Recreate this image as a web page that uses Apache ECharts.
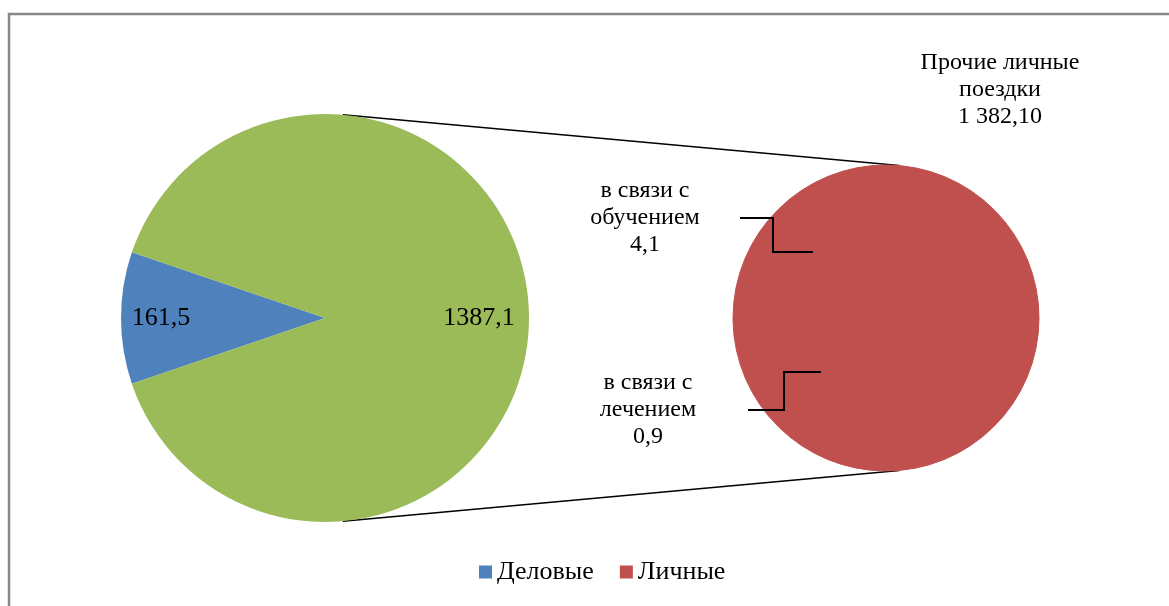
<!DOCTYPE html>
<html>
<head>
<meta charset="utf-8">
<title>Поездки</title>
<script src="https://cdn.jsdelivr.net/npm/echarts@6/dist/echarts.min.js"></script>
<style>
  html, body { margin: 0; padding: 0; background: #fff; }
  #chart { width: 1169px; height: 606px; }
</style>
</head>
<body>
<div id="chart"></div>
<script>
// данные
const mainCats = ['Деловые', 'Личные'];
const mainValues = [161.5, 1387.1];
const personalCats = ['в связи с\nобучением', 'в связи с\nлечением', 'Прочие личные\nпоездки'];
const personalValues = [4.1, 0.9, 1382.1];
const personalDecimals = [1, 1, 2];

// раскладка
const leftC = [325, 318], leftR = 204;
const rightC = [886, 318], rightR = 153;
const leftLabelR = [164, 154];
const serif = "'Times New Roman', 'Liberation Serif', serif";

function fmt(v, d, group) {
    const parts = v.toFixed(d).split('.');
    const intPart = group ? parts[0].replace(/\B(?=(\d{3})+(?!\d))/g, ' ') : parts[0];
    return parts[1] ? intPart + ',' + parts[1] : intPart;
}

const mainTotal = mainValues.reduce((a, b) => a + b, 0);
const leftStart = 180 + 180 * mainValues[0] / mainTotal;

// середины секторов левого круга
const midAngles = [];
let acc = 0;
mainValues.forEach(v => {
    midAngles.push(leftStart - (acc + v / 2) / mainTotal * 360);
    acc += v;
});

// подписи правого круга (смещения от центра)
const rightLabelPos = [
    { dx: -241, dy: -100, line: [[-146, -100], [-113, -100], [-113, -66], [-73, -66]] },
    { dx: -238, dy: 92, line: [[-138, 92], [-102, 92], [-102, 54], [-65, 54]] },
    { dx: 114, dy: -228, line: null }
];

const chart = echarts.init(document.getElementById('chart'));

const conn = 85 * Math.PI / 180;
function edge(c, r, sign) {
    return [c[0] + r * Math.cos(conn), c[1] - sign * r * Math.sin(conn)];
}
const lt = edge(leftC, leftR, 1), lb = edge(leftC, leftR, -1);
const rt = edge(rightC, rightR, 1), rb = edge(rightC, rightR, -1);

const leaders = rightLabelPos.filter(p => p.line).map(p => ({
    type: 'polyline',
    z: 100,
    shape: { points: p.line.map(q => [rightC[0] + q[0], rightC[1] + q[1]]) },
    style: { stroke: '#000', lineWidth: 2, fill: 'none' },
    silent: true
}));

chart.setOption({
    animation: false,
    backgroundColor: '#fff',
    textStyle: { fontFamily: serif },
    legend: {
        bottom: 16,
        left: 474,
        icon: 'rect',
        itemWidth: 13,
        itemHeight: 13,
        itemGap: 26,
        textStyle: { fontFamily: serif, fontSize: 26, color: '#000' },
        data: [
            { name: 'Деловые', itemStyle: { color: '#4F81BD' } },
            { name: 'Личные', itemStyle: { color: '#C0504D' } }
        ]
    },
    graphic: [
        {
            type: 'rect',
            shape: { x: 9, y: 14, width: 1200, height: 620 },
            style: { fill: 'none', stroke: '#878787', lineWidth: 2.5 },
            silent: true
        },
        {
            type: 'line',
            shape: { x1: lt[0], y1: lt[1], x2: rt[0], y2: rt[1] },
            style: { stroke: '#000', lineWidth: 1.5 }
        },
        {
            type: 'line',
            shape: { x1: lb[0], y1: lb[1], x2: rb[0], y2: rb[1] },
            style: { stroke: '#000', lineWidth: 1.5 }
        }
    ].concat(leaders),
    series: [
        {
            type: 'pie',
            center: leftC,
            radius: leftR,
            startAngle: leftStart,
            clockwise: true,
            avoidLabelOverlap: false,
            data: mainCats.map((n, i) => ({ name: n, value: mainValues[i] })),
            color: ['#4F81BD', '#9BBB59'],
            label: {
                position: 'inside',
                fontFamily: serif,
                fontSize: 26,
                color: '#000',
                formatter: p => fmt(p.value, 1, false)
            },
            labelLayout: p => {
                const a = midAngles[p.dataIndex] * Math.PI / 180;
                const r = leftLabelR[p.dataIndex];
                return {
                    x: leftC[0] + r * Math.cos(a),
                    y: leftC[1] - r * Math.sin(a),
                    align: 'center',
                    verticalAlign: 'middle'
                };
            },
            emphasis: { disabled: true }
        },
        {
            type: 'pie',
            center: rightC,
            radius: rightR,
            startAngle: 181,
            clockwise: true,
            avoidLabelOverlap: false,
            data: personalCats.map((n, i) => ({ name: n, value: personalValues[i] })),
            color: ['#C0504D', '#C0504D', '#C0504D'],
            itemStyle: { borderColor: '#C0504D', borderWidth: 1 },
            label: {
                position: 'outside',
                fontFamily: serif,
                fontSize: 24,
                lineHeight: 27,
                color: '#000',
                align: 'center',
                formatter: p => p.name + '\n' + fmt(p.value, personalDecimals[p.dataIndex], true)
            },
            labelLine: { show: false },
            labelLayout: p => {
                const pos = rightLabelPos[p.dataIndex];
                return {
                    x: rightC[0] + pos.dx,
                    y: rightC[1] + pos.dy,
                    align: 'center',
                    verticalAlign: 'middle'
                };
            },
            emphasis: { disabled: true }
        }
    ]
});
</script>
</body>
</html>
